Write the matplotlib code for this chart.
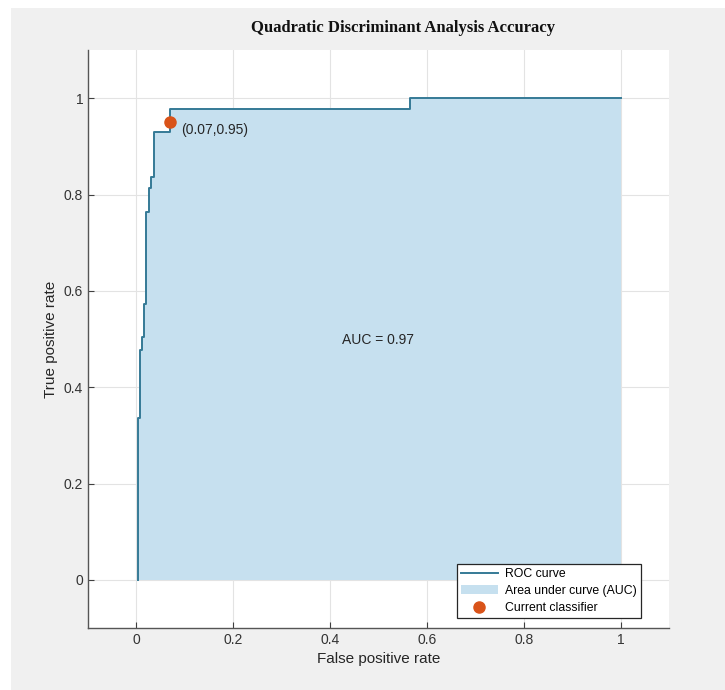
import matplotlib.pyplot as plt
from matplotlib.patches import Rectangle

# ROC curve corner points (false positive rate, true positive rate)
fpr = [0.003, 0.003, 0.008, 0.008, 0.011, 0.011, 0.015, 0.015, 0.020, 0.020,
       0.027, 0.027, 0.031, 0.031, 0.036, 0.036, 0.070, 0.070, 0.565, 0.565, 1.0]
tpr = [0.0, 0.335, 0.335, 0.478, 0.478, 0.505, 0.505, 0.573, 0.573, 0.764,
       0.764, 0.813, 0.813, 0.836, 0.836, 0.930, 0.930, 0.977, 0.977, 1.0, 1.0]
auc = 0.97
current = (0.07, 0.95)
ticks = [0, 0.2, 0.4, 0.6, 0.8, 1]

plt.rcParams['font.family'] = ['Liberation Sans', 'DejaVu Sans']

fig = plt.figure(figsize=(7.25, 6.9), dpi=100, facecolor='white')
fig.patches.append(Rectangle((11 / 725, 0), 1, 682 / 690, transform=fig.transFigure,
                             facecolor='#f0f0f0', edgecolor='none', zorder=-10))

ax = fig.add_axes([88 / 725, 1 - 628 / 690, 581 / 725, 578 / 690])
ax.set_facecolor('white')

ax.fill_between(fpr, tpr, 0, color='#c6e0ef', linewidth=0, label='Area under curve (AUC)', zorder=2)
ax.plot(fpr, tpr, color='#357a96', linewidth=1.4, label='ROC curve', zorder=3)
ax.plot(current[0], current[1], 'o', color='#d95319', markersize=8, label='Current classifier', zorder=4)

ax.text(current[0] + 0.023, current[1] - 0.016, '(%.2f,%.2f)' % current, fontsize=10, color='#262626',
        va='center', ha='left', zorder=5)
ax.text(0.5, 0.497, 'AUC = %.2f' % auc, fontsize=10, color='#262626', ha='center', va='center', zorder=5)

ax.set_xlim(-0.1, 1.1)
ax.set_ylim(-0.1, 1.1)
ax.set_xticks(ticks)
ax.set_yticks(ticks)
ax.set_xticklabels(['0', '0.2', '0.4', '0.6', '0.8', '1'])
ax.set_yticklabels(['0', '0.2', '0.4', '0.6', '0.8', '1'])
ax.grid(True, color='#e3e3e3', linewidth=0.8, zorder=0)
ax.set_axisbelow(True)
ax.tick_params(direction='in', length=4, colors='#404040', labelsize=10, labelcolor='#333333')
for side in ['top', 'right']:
    ax.spines[side].set_visible(False)
for side in ['left', 'bottom']:
    ax.spines[side].set_color('#555555')
    ax.spines[side].set_linewidth(1.0)

ax.set_xlabel('False positive rate', fontsize=11, color='#262626')
ax.set_ylabel('True positive rate', fontsize=11, color='#262626')

handles, labels = ax.get_legend_handles_labels()
order = [1, 0, 2]
leg = ax.legend([handles[i] for i in order], [labels[i] for i in order], loc='lower right',
                bbox_to_anchor=(0.952, 0.017), fontsize=8.8, fancybox=False, framealpha=1,
                edgecolor='#262626', borderpad=0.35, labelspacing=0.4, handlelength=3.0,
                handletextpad=0.6, borderaxespad=0)
leg.get_frame().set_linewidth(0.9)

fig.text(403 / 725, 1 - 28 / 690, 'Quadratic Discriminant Analysis Accuracy', fontsize=12,
         fontweight='bold', family='Liberation Serif', ha='center', va='center', color='#111111')

fig.savefig('out.png', dpi=100, facecolor=fig.get_facecolor())
